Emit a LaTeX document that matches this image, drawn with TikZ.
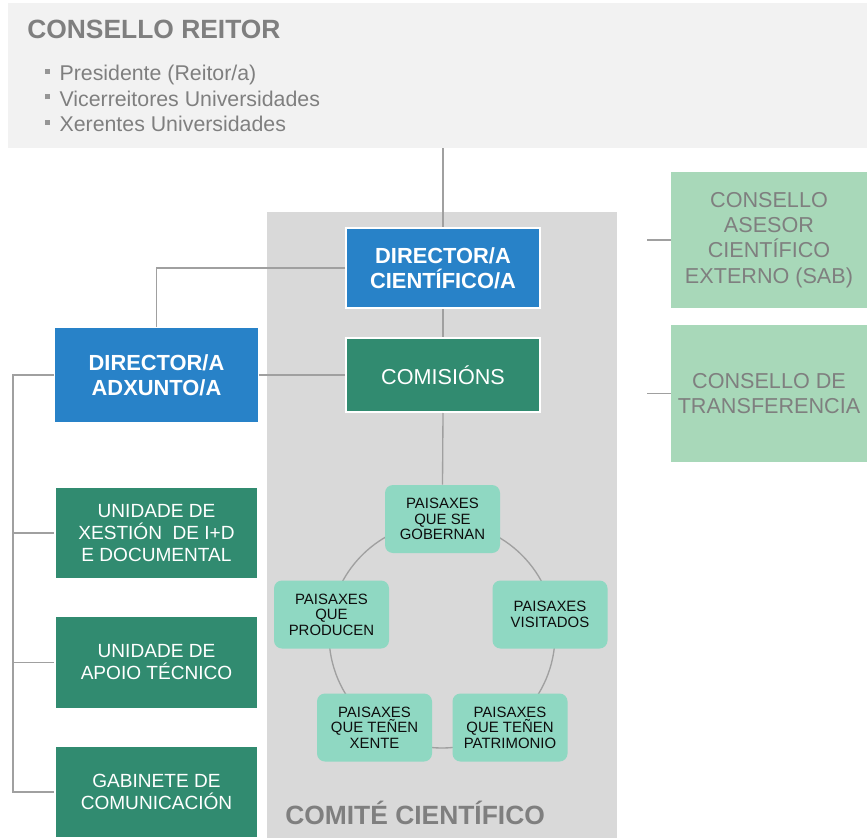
\documentclass[tikz,border=0pt]{standalone}
\usepackage{fontspec}
\setmainfont{Liberation Sans}
\definecolor{topgrey}{RGB}{242,242,242}
\definecolor{panelgrey}{RGB}{217,217,217}
\definecolor{textgrey}{RGB}{127,127,127}
\definecolor{bulletgrey}{RGB}{150,150,150}
\definecolor{bossblue}{RGB}{40,130,200}
\definecolor{unitgreen}{RGB}{49,139,112}
\definecolor{councilgreen}{RGB}{168,216,185}
\definecolor{mint}{RGB}{143,216,194}
\definecolor{linegrey}{RGB}{160,160,160}
\usepackage{tikz}
\usetikzlibrary{positioning, calc}
\newcommand{\sqbullet}{\textcolor{bulletgrey}{\rule[0.33em]{0.24em}{0.24em}}\hspace{0.43em}}
\tikzset{
    panel/.style={rectangle, inner sep=0pt, draw=none},
    bossbox/.style={rectangle, minimum width=145.5pt, minimum height=60pt, align=center, draw=white, line width=1.5pt, fill=bossblue, text=white, inner sep=1pt, font=\fontsize{16.4}{19}\selectfont\bfseries},
    unitbox/.style={rectangle, minimum width=152.25pt, minimum height=69.5pt, align=center, draw=white, line width=1.5pt, fill=unitgreen, text=white, inner sep=1pt, font=\fontsize{14.3}{16.5}\selectfont},
    councilbox/.style={rectangle, minimum width=147pt, minimum height=102.5pt, align=center, fill=councilgreen, text=textgrey, inner sep=1pt, font=\fontsize{16.2}{19}\selectfont},
    themebox/.style={rectangle, rounded corners=6pt, minimum width=86.25pt, minimum height=51pt, align=center, fill=mint, text=black!95, inner sep=1pt, font=\fontsize{11.2}{11.6}\selectfont},
    link/.style={draw=linegrey, line width=1pt},
    heading/.style={anchor=base west, inner sep=0pt, text=textgrey, font=\fontsize{19.8}{23}\selectfont\bfseries},
    listitem/.style={anchor=base west, inner sep=0pt, text=textgrey, font=\fontsize{16}{19}\selectfont}
}

\begin{document}
\begin{tikzpicture}[x=0.75pt, y=-0.75pt]
    \useasboundingbox (0,0) rectangle (867,838);
    % panels
    \node[panel, fill=topgrey, minimum width=644.25pt, minimum height=108.75pt] (reitor) at (437.5, 75.5) {};
    \node[panel, fill=panelgrey, minimum width=262.5pt, minimum height=469.5pt] (comite) at (442, 525) {};
    \node[heading] (reitortitle) at (27, 39) {CONSELLO REITOR};
    \foreach \txt [count=\i] in {{Presidente (Reitor/a)}, Vicerreitores Universidades, Xerentes Universidades}
        \node[listitem] (item\i) at (45, {55.5+25.5*\i}) {\sqbullet\txt};
    \node[heading] (comitetitle) at (285, 824) {COMITÉ CIENTÍFICO};

    % direction
    \node[bossbox] (dcient) at (443, 268) {DIRECTOR/A\\CIENTÍFICO/A};
    \node[bossbox, fill=unitgreen, minimum height=55.5pt, font=\fontsize{16.2}{19}\selectfont] (comis) at (443, 375) {COMISIÓNS};
    \node[bossbox, draw=none, minimum width=152.25pt, minimum height=70.5pt] (dadx) at (156.5, 375) {DIRECTOR/A\\ADXUNTO/A};

    % units
    \node[unitbox] (unidxest) at (156.5, 533) {UNIDADE DE\\XESTIÓN\ \ DE I+D\\E DOCUMENTAL};
    \node[unitbox] (unidapoio) at (156.5, 662.5) {UNIDADE DE\\APOIO TÉCNICO};
    \node[unitbox] (gabinete) at (156.5, 792) {GABINETE DE\\COMUNICACIÓN};

    % councils
    \node[councilbox] (sab) at (769, 240) {CONSELLO\\ASESOR\\CIENTÍFICO\\EXTERNO (SAB)};
    \node[councilbox] (transf) at (769, 393.5) {CONSELLO DE\\TRANSFERENCIA};

    % cycle of themes
    \coordinate (hub) at (442, 635);
    \draw[link] (hub) circle [radius=84.75pt];
    \node[themebox] (gobernan) at (442.5, 519) {PAISAXES\\QUE SE\\GOBERNAN};
    \node[themebox] (visitados) at (550, 614.5) {PAISAXES\\VISITADOS};
    \node[themebox] (patrimonio) at (510, 727.5) {PAISAXES\\QUE TEÑEN\\PATRIMONIO};
    \node[themebox] (xente) at (374.5, 727.5) {PAISAXES\\QUE TEÑEN\\XENTE};
    \node[themebox] (producen) at (331.5, 614.5) {PAISAXES\\QUE\\PRODUCEN};

    % connectors
    \coordinate (rail) at (13, 0);
    \coordinate (stub) at (647, 0);
    \draw[link] (reitor.south -| dcient) -- (dcient.north);
    \draw[link] (dcient.west) -| (dadx.north);
    \draw[link] (dcient.south) -- (comis.north);
    \draw[link] (dadx.east) -- (comis.west);
    \draw[link] (comis.south) -- (gobernan.north);
    \draw[link] (dadx.west) -- (dadx.west -| rail) -- (gabinete.west -| rail) -- (gabinete.west);
    \draw[link] (unidxest.west -| rail) -- (unidxest.west);
    \draw[link] (unidapoio.west -| rail) -- (unidapoio.west);
    \draw[link] (sab.west -| stub) -- (sab.west);
    \draw[link] (transf.west -| stub) -- (transf.west);
\end{tikzpicture}
\end{document}
